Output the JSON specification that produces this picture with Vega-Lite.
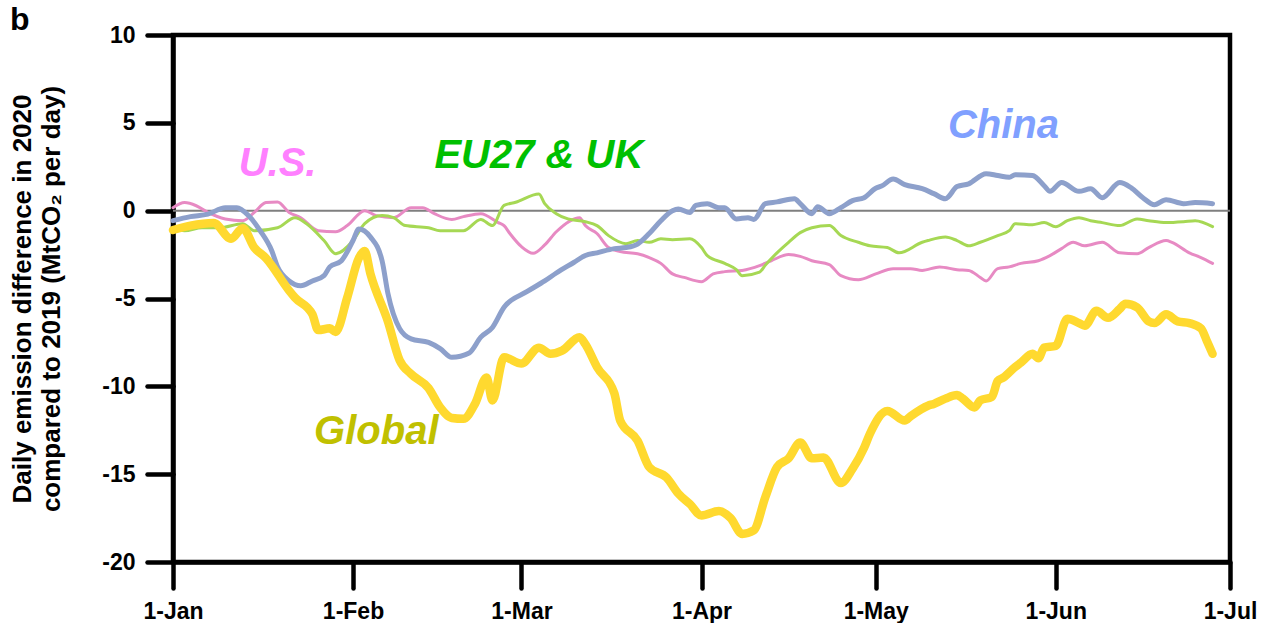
{
  "$schema": "https://vega.github.io/schema/vega-lite/v6.json",
  "width": 1057,
  "height": 527,
  "autosize": "none",
  "padding": {"left": 173, "top": 35, "right": 31, "bottom": 61},
  "background": "white",
  "title": {
    "text": "b",
    "anchor": "start",
    "frame": "group",
    "dx": -163,
    "dy": 38,
    "offset": 0,
    "baseline": "alphabetic",
    "font": "Liberation Sans",
    "fontSize": 32,
    "fontWeight": "bold",
    "color": "black"
  },
  "config": {
    "font": "Liberation Sans",
    "view": {"stroke": "black", "strokeWidth": 4.5},
    "axis": {
      "grid": false,
      "domainColor": "black",
      "domainWidth": 4.5,
      "tickColor": "black",
      "tickWidth": 4.5,
      "tickSize": 26,
      "tickCap": "round",
      "labelFont": "Liberation Sans",
      "labelFontSize": 23,
      "labelFontWeight": "bold",
      "labelColor": "black",
      "labelPadding": 12,
      "labelFlush": false,
      "labelOverlap": false,
      "labelBound": false
    }
  },
  "datasets": {
    "zero": [
      {"date": "2020-01-01", "value": 0},
      {"date": "2020-07-01", "value": 0}
    ],
    "labels": [
      {"date": "2020-01-19", "value": 2.0, "label": "U.S."},
      {"date": "2020-03-04", "value": 2.45, "label": "EU27 & UK"},
      {"date": "2020-05-23", "value": 4.15, "label": "China"},
      {"date": "2020-02-05", "value": -13.26, "label": "Global"}
    ],
    "emissions": [
      {"date": "2020-01-01", "region": "Global", "value": -1.1},
      {"date": "2020-01-04", "region": "Global", "value": -0.85},
      {"date": "2020-01-08", "region": "Global", "value": -0.7},
      {"date": "2020-01-11", "region": "Global", "value": -1.6},
      {"date": "2020-01-13", "region": "Global", "value": -1.0},
      {"date": "2020-01-15", "region": "Global", "value": -2.1},
      {"date": "2020-01-17", "region": "Global", "value": -2.7},
      {"date": "2020-01-21", "region": "Global", "value": -4.55},
      {"date": "2020-01-22", "region": "Global", "value": -4.95},
      {"date": "2020-01-25", "region": "Global", "value": -5.9},
      {"date": "2020-01-26", "region": "Global", "value": -6.8},
      {"date": "2020-01-28", "region": "Global", "value": -6.7},
      {"date": "2020-01-29", "region": "Global", "value": -6.9},
      {"date": "2020-01-31", "region": "Global", "value": -4.95},
      {"date": "2020-02-02", "region": "Global", "value": -2.7},
      {"date": "2020-02-03", "region": "Global", "value": -2.3},
      {"date": "2020-02-04", "region": "Global", "value": -3.6},
      {"date": "2020-02-07", "region": "Global", "value": -6.3},
      {"date": "2020-02-09", "region": "Global", "value": -8.5},
      {"date": "2020-02-11", "region": "Global", "value": -9.3},
      {"date": "2020-02-14", "region": "Global", "value": -10.1},
      {"date": "2020-02-16", "region": "Global", "value": -11.2},
      {"date": "2020-02-18", "region": "Global", "value": -11.8},
      {"date": "2020-02-20", "region": "Global", "value": -11.85},
      {"date": "2020-02-22", "region": "Global", "value": -11.0},
      {"date": "2020-02-24", "region": "Global", "value": -9.5},
      {"date": "2020-02-25", "region": "Global", "value": -10.8},
      {"date": "2020-02-27", "region": "Global", "value": -8.35},
      {"date": "2020-03-01", "region": "Global", "value": -8.7},
      {"date": "2020-03-04", "region": "Global", "value": -7.8},
      {"date": "2020-03-06", "region": "Global", "value": -8.15},
      {"date": "2020-03-08", "region": "Global", "value": -7.97},
      {"date": "2020-03-11", "region": "Global", "value": -7.2},
      {"date": "2020-03-12", "region": "Global", "value": -7.6},
      {"date": "2020-03-14", "region": "Global", "value": -8.9},
      {"date": "2020-03-17", "region": "Global", "value": -10.4},
      {"date": "2020-03-18", "region": "Global", "value": -11.95},
      {"date": "2020-03-21", "region": "Global", "value": -13.1},
      {"date": "2020-03-23", "region": "Global", "value": -14.6},
      {"date": "2020-03-26", "region": "Global", "value": -15.2},
      {"date": "2020-03-28", "region": "Global", "value": -16.1},
      {"date": "2020-03-30", "region": "Global", "value": -16.7},
      {"date": "2020-04-01", "region": "Global", "value": -17.35},
      {"date": "2020-04-04", "region": "Global", "value": -17.1},
      {"date": "2020-04-06", "region": "Global", "value": -17.5},
      {"date": "2020-04-08", "region": "Global", "value": -18.4},
      {"date": "2020-04-10", "region": "Global", "value": -18.2},
      {"date": "2020-04-12", "region": "Global", "value": -16.3},
      {"date": "2020-04-14", "region": "Global", "value": -14.6},
      {"date": "2020-04-16", "region": "Global", "value": -14.1},
      {"date": "2020-04-18", "region": "Global", "value": -13.2},
      {"date": "2020-04-20", "region": "Global", "value": -14.1},
      {"date": "2020-04-22", "region": "Global", "value": -14.05},
      {"date": "2020-04-25", "region": "Global", "value": -15.5},
      {"date": "2020-04-27", "region": "Global", "value": -14.7},
      {"date": "2020-04-29", "region": "Global", "value": -13.5},
      {"date": "2020-04-30", "region": "Global", "value": -12.7},
      {"date": "2020-05-03", "region": "Global", "value": -11.4},
      {"date": "2020-05-06", "region": "Global", "value": -11.95},
      {"date": "2020-05-07", "region": "Global", "value": -11.7},
      {"date": "2020-05-10", "region": "Global", "value": -11.1},
      {"date": "2020-05-11", "region": "Global", "value": -11.0},
      {"date": "2020-05-13", "region": "Global", "value": -10.7},
      {"date": "2020-05-15", "region": "Global", "value": -10.5},
      {"date": "2020-05-16", "region": "Global", "value": -10.7},
      {"date": "2020-05-18", "region": "Global", "value": -11.2},
      {"date": "2020-05-19", "region": "Global", "value": -10.8},
      {"date": "2020-05-21", "region": "Global", "value": -10.6},
      {"date": "2020-05-22", "region": "Global", "value": -9.7},
      {"date": "2020-05-23", "region": "Global", "value": -9.5},
      {"date": "2020-05-25", "region": "Global", "value": -8.9},
      {"date": "2020-05-26", "region": "Global", "value": -8.65},
      {"date": "2020-05-28", "region": "Global", "value": -8.15},
      {"date": "2020-05-29", "region": "Global", "value": -8.4},
      {"date": "2020-05-30", "region": "Global", "value": -7.8},
      {"date": "2020-06-01", "region": "Global", "value": -7.7},
      {"date": "2020-06-03", "region": "Global", "value": -6.15},
      {"date": "2020-06-05", "region": "Global", "value": -6.4},
      {"date": "2020-06-06", "region": "Global", "value": -6.55},
      {"date": "2020-06-08", "region": "Global", "value": -5.7},
      {"date": "2020-06-10", "region": "Global", "value": -6.1},
      {"date": "2020-06-12", "region": "Global", "value": -5.6},
      {"date": "2020-06-13", "region": "Global", "value": -5.3},
      {"date": "2020-06-15", "region": "Global", "value": -5.5},
      {"date": "2020-06-17", "region": "Global", "value": -6.3},
      {"date": "2020-06-18", "region": "Global", "value": -6.4},
      {"date": "2020-06-20", "region": "Global", "value": -5.9},
      {"date": "2020-06-22", "region": "Global", "value": -6.3},
      {"date": "2020-06-24", "region": "Global", "value": -6.4},
      {"date": "2020-06-26", "region": "Global", "value": -6.7},
      {"date": "2020-06-27", "region": "Global", "value": -7.4},
      {"date": "2020-06-28", "region": "Global", "value": -8.15},

      {"date": "2020-01-01", "region": "China", "value": -0.57},
      {"date": "2020-01-04", "region": "China", "value": -0.34},
      {"date": "2020-01-07", "region": "China", "value": -0.2},
      {"date": "2020-01-10", "region": "China", "value": 0.17},
      {"date": "2020-01-12", "region": "China", "value": 0.17},
      {"date": "2020-01-14", "region": "China", "value": -0.28},
      {"date": "2020-01-16", "region": "China", "value": -1.14},
      {"date": "2020-01-18", "region": "China", "value": -2.28},
      {"date": "2020-01-19", "region": "China", "value": -3.2},
      {"date": "2020-01-21", "region": "China", "value": -4.0},
      {"date": "2020-01-23", "region": "China", "value": -4.27},
      {"date": "2020-01-25", "region": "China", "value": -4.0},
      {"date": "2020-01-27", "region": "China", "value": -3.7},
      {"date": "2020-01-28", "region": "China", "value": -3.2},
      {"date": "2020-01-30", "region": "China", "value": -2.85},
      {"date": "2020-02-01", "region": "China", "value": -1.7},
      {"date": "2020-02-02", "region": "China", "value": -1.04},
      {"date": "2020-02-04", "region": "China", "value": -1.5},
      {"date": "2020-02-06", "region": "China", "value": -2.85},
      {"date": "2020-02-07", "region": "China", "value": -4.7},
      {"date": "2020-02-09", "region": "China", "value": -6.7},
      {"date": "2020-02-11", "region": "China", "value": -7.3},
      {"date": "2020-02-14", "region": "China", "value": -7.5},
      {"date": "2020-02-16", "region": "China", "value": -7.85},
      {"date": "2020-02-18", "region": "China", "value": -8.35},
      {"date": "2020-02-21", "region": "China", "value": -8.1},
      {"date": "2020-02-23", "region": "China", "value": -7.2},
      {"date": "2020-02-25", "region": "China", "value": -6.65},
      {"date": "2020-02-27", "region": "China", "value": -5.5},
      {"date": "2020-03-02", "region": "China", "value": -4.6},
      {"date": "2020-03-05", "region": "China", "value": -4.0},
      {"date": "2020-03-07", "region": "China", "value": -3.55},
      {"date": "2020-03-10", "region": "China", "value": -2.95},
      {"date": "2020-03-12", "region": "China", "value": -2.55},
      {"date": "2020-03-14", "region": "China", "value": -2.4},
      {"date": "2020-03-17", "region": "China", "value": -2.16},
      {"date": "2020-03-19", "region": "China", "value": -2.1},
      {"date": "2020-03-21", "region": "China", "value": -1.9},
      {"date": "2020-03-23", "region": "China", "value": -1.3},
      {"date": "2020-03-25", "region": "China", "value": -0.57},
      {"date": "2020-03-27", "region": "China", "value": 0.0},
      {"date": "2020-03-28", "region": "China", "value": 0.1},
      {"date": "2020-03-30", "region": "China", "value": -0.1},
      {"date": "2020-03-31", "region": "China", "value": 0.3},
      {"date": "2020-04-02", "region": "China", "value": 0.4},
      {"date": "2020-04-04", "region": "China", "value": 0.17},
      {"date": "2020-04-05", "region": "China", "value": 0.17},
      {"date": "2020-04-07", "region": "China", "value": -0.47},
      {"date": "2020-04-09", "region": "China", "value": -0.4},
      {"date": "2020-04-10", "region": "China", "value": -0.5},
      {"date": "2020-04-12", "region": "China", "value": 0.4},
      {"date": "2020-04-14", "region": "China", "value": 0.5},
      {"date": "2020-04-17", "region": "China", "value": 0.68},
      {"date": "2020-04-18", "region": "China", "value": 0.4},
      {"date": "2020-04-20", "region": "China", "value": -0.17},
      {"date": "2020-04-21", "region": "China", "value": 0.23},
      {"date": "2020-04-23", "region": "China", "value": -0.17},
      {"date": "2020-04-25", "region": "China", "value": 0.17},
      {"date": "2020-04-27", "region": "China", "value": 0.57},
      {"date": "2020-04-29", "region": "China", "value": 0.74},
      {"date": "2020-05-01", "region": "China", "value": 1.28},
      {"date": "2020-05-02", "region": "China", "value": 1.4},
      {"date": "2020-05-04", "region": "China", "value": 1.8},
      {"date": "2020-05-06", "region": "China", "value": 1.48},
      {"date": "2020-05-09", "region": "China", "value": 1.25},
      {"date": "2020-05-11", "region": "China", "value": 0.97},
      {"date": "2020-05-13", "region": "China", "value": 0.68},
      {"date": "2020-05-15", "region": "China", "value": 1.37},
      {"date": "2020-05-17", "region": "China", "value": 1.53},
      {"date": "2020-05-20", "region": "China", "value": 2.1},
      {"date": "2020-05-22", "region": "China", "value": 2.0},
      {"date": "2020-05-24", "region": "China", "value": 1.9},
      {"date": "2020-05-25", "region": "China", "value": 2.05},
      {"date": "2020-05-28", "region": "China", "value": 2.0},
      {"date": "2020-05-30", "region": "China", "value": 1.42},
      {"date": "2020-05-31", "region": "China", "value": 1.1},
      {"date": "2020-06-02", "region": "China", "value": 1.6},
      {"date": "2020-06-05", "region": "China", "value": 1.1},
      {"date": "2020-06-07", "region": "China", "value": 1.25},
      {"date": "2020-06-09", "region": "China", "value": 0.74},
      {"date": "2020-06-12", "region": "China", "value": 1.6},
      {"date": "2020-06-14", "region": "China", "value": 1.3},
      {"date": "2020-06-16", "region": "China", "value": 0.74},
      {"date": "2020-06-18", "region": "China", "value": 0.34},
      {"date": "2020-06-20", "region": "China", "value": 0.62},
      {"date": "2020-06-23", "region": "China", "value": 0.4},
      {"date": "2020-06-25", "region": "China", "value": 0.46},
      {"date": "2020-06-28", "region": "China", "value": 0.4},

      {"date": "2020-01-01", "region": "EU27 & UK", "value": -1.0},
      {"date": "2020-01-03", "region": "EU27 & UK", "value": -1.14},
      {"date": "2020-01-06", "region": "EU27 & UK", "value": -0.97},
      {"date": "2020-01-09", "region": "EU27 & UK", "value": -0.97},
      {"date": "2020-01-13", "region": "EU27 & UK", "value": -0.74},
      {"date": "2020-01-15", "region": "EU27 & UK", "value": -1.14},
      {"date": "2020-01-19", "region": "EU27 & UK", "value": -0.97},
      {"date": "2020-01-22", "region": "EU27 & UK", "value": -0.4},
      {"date": "2020-01-24", "region": "EU27 & UK", "value": -0.74},
      {"date": "2020-01-27", "region": "EU27 & UK", "value": -1.7},
      {"date": "2020-01-29", "region": "EU27 & UK", "value": -2.45},
      {"date": "2020-02-01", "region": "EU27 & UK", "value": -1.7},
      {"date": "2020-02-03", "region": "EU27 & UK", "value": -0.74},
      {"date": "2020-02-06", "region": "EU27 & UK", "value": -0.28},
      {"date": "2020-02-08", "region": "EU27 & UK", "value": -0.4},
      {"date": "2020-02-10", "region": "EU27 & UK", "value": -0.85},
      {"date": "2020-02-14", "region": "EU27 & UK", "value": -0.97},
      {"date": "2020-02-16", "region": "EU27 & UK", "value": -1.14},
      {"date": "2020-02-20", "region": "EU27 & UK", "value": -1.14},
      {"date": "2020-02-23", "region": "EU27 & UK", "value": -0.5},
      {"date": "2020-02-25", "region": "EU27 & UK", "value": -0.85},
      {"date": "2020-02-27", "region": "EU27 & UK", "value": 0.3},
      {"date": "2020-02-29", "region": "EU27 & UK", "value": 0.48},
      {"date": "2020-03-04", "region": "EU27 & UK", "value": 0.95},
      {"date": "2020-03-05", "region": "EU27 & UK", "value": 0.4},
      {"date": "2020-03-07", "region": "EU27 & UK", "value": -0.17},
      {"date": "2020-03-09", "region": "EU27 & UK", "value": -0.47},
      {"date": "2020-03-12", "region": "EU27 & UK", "value": -0.63},
      {"date": "2020-03-14", "region": "EU27 & UK", "value": -0.85},
      {"date": "2020-03-16", "region": "EU27 & UK", "value": -1.42},
      {"date": "2020-03-19", "region": "EU27 & UK", "value": -1.88},
      {"date": "2020-03-21", "region": "EU27 & UK", "value": -1.7},
      {"date": "2020-03-23", "region": "EU27 & UK", "value": -1.8},
      {"date": "2020-03-25", "region": "EU27 & UK", "value": -1.6},
      {"date": "2020-03-27", "region": "EU27 & UK", "value": -1.65},
      {"date": "2020-03-30", "region": "EU27 & UK", "value": -1.6},
      {"date": "2020-04-01", "region": "EU27 & UK", "value": -2.1},
      {"date": "2020-04-02", "region": "EU27 & UK", "value": -2.56},
      {"date": "2020-04-05", "region": "EU27 & UK", "value": -3.0},
      {"date": "2020-04-07", "region": "EU27 & UK", "value": -3.36},
      {"date": "2020-04-08", "region": "EU27 & UK", "value": -3.7},
      {"date": "2020-04-11", "region": "EU27 & UK", "value": -3.5},
      {"date": "2020-04-12", "region": "EU27 & UK", "value": -3.1},
      {"date": "2020-04-14", "region": "EU27 & UK", "value": -2.4},
      {"date": "2020-04-16", "region": "EU27 & UK", "value": -1.8},
      {"date": "2020-04-18", "region": "EU27 & UK", "value": -1.25},
      {"date": "2020-04-20", "region": "EU27 & UK", "value": -0.97},
      {"date": "2020-04-23", "region": "EU27 & UK", "value": -0.85},
      {"date": "2020-04-25", "region": "EU27 & UK", "value": -1.42},
      {"date": "2020-04-28", "region": "EU27 & UK", "value": -1.8},
      {"date": "2020-04-30", "region": "EU27 & UK", "value": -2.0},
      {"date": "2020-05-03", "region": "EU27 & UK", "value": -2.1},
      {"date": "2020-05-05", "region": "EU27 & UK", "value": -2.4},
      {"date": "2020-05-09", "region": "EU27 & UK", "value": -1.8},
      {"date": "2020-05-10", "region": "EU27 & UK", "value": -1.7},
      {"date": "2020-05-13", "region": "EU27 & UK", "value": -1.5},
      {"date": "2020-05-15", "region": "EU27 & UK", "value": -1.7},
      {"date": "2020-05-17", "region": "EU27 & UK", "value": -2.0},
      {"date": "2020-05-19", "region": "EU27 & UK", "value": -1.8},
      {"date": "2020-05-22", "region": "EU27 & UK", "value": -1.42},
      {"date": "2020-05-24", "region": "EU27 & UK", "value": -1.14},
      {"date": "2020-05-25", "region": "EU27 & UK", "value": -0.74},
      {"date": "2020-05-28", "region": "EU27 & UK", "value": -0.8},
      {"date": "2020-05-30", "region": "EU27 & UK", "value": -0.68},
      {"date": "2020-06-01", "region": "EU27 & UK", "value": -0.91},
      {"date": "2020-06-03", "region": "EU27 & UK", "value": -0.57},
      {"date": "2020-06-05", "region": "EU27 & UK", "value": -0.4},
      {"date": "2020-06-07", "region": "EU27 & UK", "value": -0.57},
      {"date": "2020-06-09", "region": "EU27 & UK", "value": -0.68},
      {"date": "2020-06-12", "region": "EU27 & UK", "value": -0.85},
      {"date": "2020-06-15", "region": "EU27 & UK", "value": -0.47},
      {"date": "2020-06-17", "region": "EU27 & UK", "value": -0.57},
      {"date": "2020-06-20", "region": "EU27 & UK", "value": -0.68},
      {"date": "2020-06-23", "region": "EU27 & UK", "value": -0.63},
      {"date": "2020-06-25", "region": "EU27 & UK", "value": -0.57},
      {"date": "2020-06-28", "region": "EU27 & UK", "value": -0.91},

      {"date": "2020-01-01", "region": "U.S.", "value": 0.17},
      {"date": "2020-01-03", "region": "U.S.", "value": 0.46},
      {"date": "2020-01-05", "region": "U.S.", "value": 0.28},
      {"date": "2020-01-07", "region": "U.S.", "value": -0.1},
      {"date": "2020-01-10", "region": "U.S.", "value": -0.47},
      {"date": "2020-01-13", "region": "U.S.", "value": -0.57},
      {"date": "2020-01-15", "region": "U.S.", "value": -0.1},
      {"date": "2020-01-17", "region": "U.S.", "value": 0.46},
      {"date": "2020-01-19", "region": "U.S.", "value": 0.5},
      {"date": "2020-01-21", "region": "U.S.", "value": -0.1},
      {"date": "2020-01-23", "region": "U.S.", "value": -0.4},
      {"date": "2020-01-26", "region": "U.S.", "value": -1.14},
      {"date": "2020-01-29", "region": "U.S.", "value": -1.2},
      {"date": "2020-01-31", "region": "U.S.", "value": -0.85},
      {"date": "2020-02-03", "region": "U.S.", "value": 0.0},
      {"date": "2020-02-05", "region": "U.S.", "value": -0.28},
      {"date": "2020-02-08", "region": "U.S.", "value": -0.4},
      {"date": "2020-02-11", "region": "U.S.", "value": 0.17},
      {"date": "2020-02-13", "region": "U.S.", "value": 0.17},
      {"date": "2020-02-15", "region": "U.S.", "value": -0.17},
      {"date": "2020-02-18", "region": "U.S.", "value": -0.5},
      {"date": "2020-02-20", "region": "U.S.", "value": -0.34},
      {"date": "2020-02-23", "region": "U.S.", "value": -0.17},
      {"date": "2020-02-26", "region": "U.S.", "value": -0.68},
      {"date": "2020-02-27", "region": "U.S.", "value": -0.85},
      {"date": "2020-02-28", "region": "U.S.", "value": -1.3},
      {"date": "2020-03-01", "region": "U.S.", "value": -2.05},
      {"date": "2020-03-03", "region": "U.S.", "value": -2.43},
      {"date": "2020-03-05", "region": "U.S.", "value": -1.95},
      {"date": "2020-03-07", "region": "U.S.", "value": -1.2},
      {"date": "2020-03-11", "region": "U.S.", "value": -0.4},
      {"date": "2020-03-12", "region": "U.S.", "value": -0.85},
      {"date": "2020-03-14", "region": "U.S.", "value": -1.3},
      {"date": "2020-03-16", "region": "U.S.", "value": -2.1},
      {"date": "2020-03-18", "region": "U.S.", "value": -2.33},
      {"date": "2020-03-21", "region": "U.S.", "value": -2.45},
      {"date": "2020-03-23", "region": "U.S.", "value": -2.67},
      {"date": "2020-03-25", "region": "U.S.", "value": -3.0},
      {"date": "2020-03-27", "region": "U.S.", "value": -3.6},
      {"date": "2020-03-29", "region": "U.S.", "value": -3.8},
      {"date": "2020-04-01", "region": "U.S.", "value": -4.04},
      {"date": "2020-04-03", "region": "U.S.", "value": -3.6},
      {"date": "2020-04-05", "region": "U.S.", "value": -3.47},
      {"date": "2020-04-08", "region": "U.S.", "value": -3.4},
      {"date": "2020-04-11", "region": "U.S.", "value": -3.13},
      {"date": "2020-04-13", "region": "U.S.", "value": -2.85},
      {"date": "2020-04-16", "region": "U.S.", "value": -2.5},
      {"date": "2020-04-18", "region": "U.S.", "value": -2.6},
      {"date": "2020-04-20", "region": "U.S.", "value": -2.85},
      {"date": "2020-04-23", "region": "U.S.", "value": -3.07},
      {"date": "2020-04-25", "region": "U.S.", "value": -3.7},
      {"date": "2020-04-28", "region": "U.S.", "value": -3.93},
      {"date": "2020-05-01", "region": "U.S.", "value": -3.6},
      {"date": "2020-05-04", "region": "U.S.", "value": -3.3},
      {"date": "2020-05-07", "region": "U.S.", "value": -3.3},
      {"date": "2020-05-09", "region": "U.S.", "value": -3.4},
      {"date": "2020-05-12", "region": "U.S.", "value": -3.2},
      {"date": "2020-05-15", "region": "U.S.", "value": -3.36},
      {"date": "2020-05-17", "region": "U.S.", "value": -3.4},
      {"date": "2020-05-19", "region": "U.S.", "value": -3.8},
      {"date": "2020-05-20", "region": "U.S.", "value": -4.0},
      {"date": "2020-05-22", "region": "U.S.", "value": -3.3},
      {"date": "2020-05-24", "region": "U.S.", "value": -3.2},
      {"date": "2020-05-26", "region": "U.S.", "value": -3.0},
      {"date": "2020-05-29", "region": "U.S.", "value": -2.85},
      {"date": "2020-05-31", "region": "U.S.", "value": -2.56},
      {"date": "2020-06-02", "region": "U.S.", "value": -2.16},
      {"date": "2020-06-04", "region": "U.S.", "value": -1.8},
      {"date": "2020-06-06", "region": "U.S.", "value": -2.0},
      {"date": "2020-06-09", "region": "U.S.", "value": -1.8},
      {"date": "2020-06-12", "region": "U.S.", "value": -2.4},
      {"date": "2020-06-15", "region": "U.S.", "value": -2.45},
      {"date": "2020-06-17", "region": "U.S.", "value": -2.1},
      {"date": "2020-06-20", "region": "U.S.", "value": -1.7},
      {"date": "2020-06-21", "region": "U.S.", "value": -1.8},
      {"date": "2020-06-24", "region": "U.S.", "value": -2.4},
      {"date": "2020-06-26", "region": "U.S.", "value": -2.67},
      {"date": "2020-06-28", "region": "U.S.", "value": -3.0}
    ]
  },
  "encoding": {
    "x": {
      "field": "date",
      "type": "temporal",
      "title": null,
      "scale": {
        "type": "utc",
        "domain": [
          {"year": 2020, "month": 1, "date": 1, "utc": true},
          {"year": 2020, "month": 7, "date": 1, "utc": true}
        ]
      },
      "axis": {
        "labelExpr": "utcFormat(datum.value, '%-d-%b')",
        "values": [
          {"year": 2020, "month": 1, "date": 1, "utc": true},
          {"year": 2020, "month": 2, "date": 1, "utc": true},
          {"year": 2020, "month": 3, "date": 1, "utc": true},
          {"year": 2020, "month": 4, "date": 1, "utc": true},
          {"year": 2020, "month": 5, "date": 1, "utc": true},
          {"year": 2020, "month": 6, "date": 1, "utc": true},
          {"year": 2020, "month": 7, "date": 1, "utc": true}
        ]
      }
    },
    "y": {
      "field": "value",
      "type": "quantitative",
      "scale": {"domain": [-20, 10], "nice": false, "zero": false},
      "axis": {
        "values": [-20, -15, -10, -5, 0, 5, 10],
        "labelExpr": "'' + datum.value",
        "title": ["Daily emission difference in 2020", "compared to 2019 (MtCO₂ per day)"],
        "titleFont": "Liberation Sans",
        "titleFontSize": 26,
        "titleFontWeight": "bold",
        "titleColor": "black",
        "titleLineHeight": 29,
        "titleAngle": -90,
        "titleAlign": "center",
        "titleBaseline": "bottom",
        "titleX": -138,
        "titleY": 263.5
      }
    }
  },
  "layer": [
    {
      "data": {"name": "zero"},
      "mark": {"type": "line", "color": "#7f7f7f", "strokeWidth": 2}
    },
    {
      "data": {"name": "emissions"},
      "transform": [{"filter": "datum.region === 'U.S.'"}],
      "mark": {"type": "line", "color": "#e78ac3", "strokeWidth": 3, "interpolate": "monotone", "strokeCap": "round", "strokeJoin": "round"}
    },
    {
      "data": {"name": "emissions"},
      "transform": [{"filter": "datum.region === 'EU27 & UK'"}],
      "mark": {"type": "line", "color": "#a6d854", "strokeWidth": 3, "interpolate": "monotone", "strokeCap": "round", "strokeJoin": "round"}
    },
    {
      "data": {"name": "emissions"},
      "transform": [{"filter": "datum.region === 'China'"}],
      "mark": {"type": "line", "color": "#8da0cb", "strokeWidth": 5, "interpolate": "monotone", "strokeCap": "round", "strokeJoin": "round"}
    },
    {
      "data": {"name": "emissions"},
      "transform": [{"filter": "datum.region === 'Global'"}],
      "mark": {"type": "line", "color": "#ffd92f", "strokeWidth": 8.5, "interpolate": "monotone", "strokeCap": "round", "strokeJoin": "round"}
    },
    {
      "data": {"name": "labels"},
      "mark": {"type": "text", "font": "Liberation Sans", "fontSize": 40, "fontStyle": "italic", "fontWeight": "bold", "align": "center", "baseline": "alphabetic"},
      "encoding": {
        "text": {"field": "label"},
        "color": {
          "field": "label",
          "type": "nominal",
          "scale": {"domain": ["U.S.", "EU27 & UK", "China", "Global"], "range": ["#ff80ff", "#00c000", "#80a0ff", "#c0c000"]},
          "legend": null
        }
      }
    }
  ]
}
